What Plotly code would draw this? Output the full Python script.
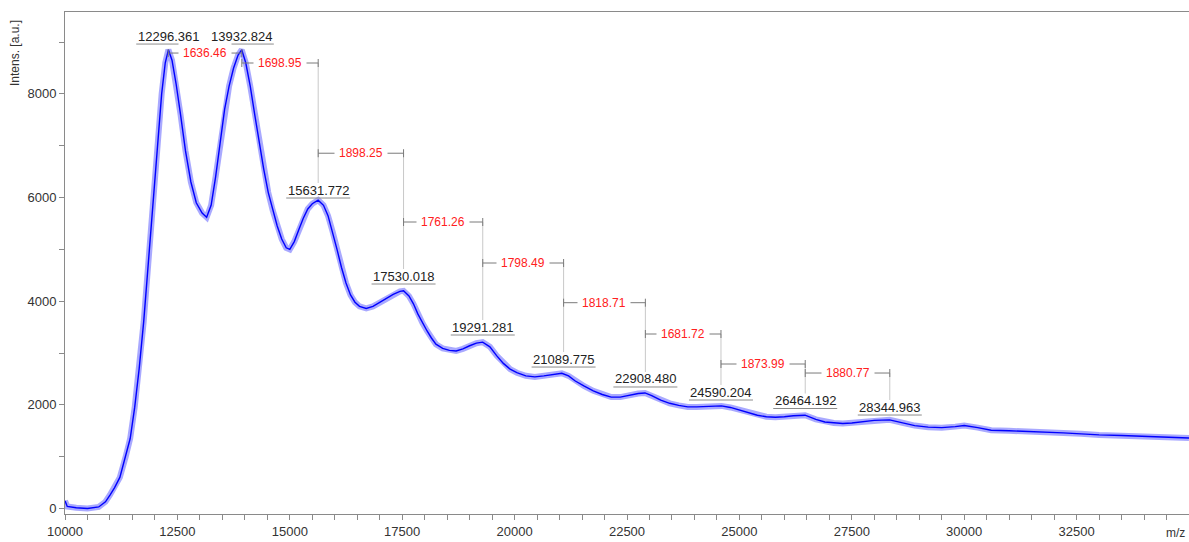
import plotly.graph_objects as go

# ---------------- spectrum (m/z, intensity in a.u.) ----------------
mz = [10000, 10050, 10250, 10500, 10750, 10900, 11000, 11100, 11220, 11350,
      11450, 11550, 11650, 11750, 11850, 11950, 12050, 12150, 12230, 12300,
      12380, 12470, 12570, 12680, 12800, 12920, 13050, 13150, 13250, 13350,
      13450, 13550, 13650, 13750, 13850, 13930, 14020, 14120, 14220, 14320,
      14420, 14520, 14620, 14720, 14820, 14920, 15000, 15100, 15200, 15300,
      15400, 15500, 15630, 15750, 15850, 15950, 16050, 16150, 16250, 16350,
      16450, 16550, 16700, 16850, 17000, 17150, 17300, 17450, 17530, 17650,
      17750, 17850, 17950, 18050, 18150, 18250, 18400, 18550, 18700, 18850,
      19000, 19150, 19290, 19450, 19600, 19750, 19900, 20050, 20250, 20450,
      20650, 20850, 21050, 21200, 21350, 21550, 21750, 21950, 22150, 22350,
      22550, 22750, 22900, 23050, 23250, 23450, 23650, 23850, 24050, 24250,
      24450, 24600, 24800, 25000, 25200, 25400, 25600, 25800, 26000, 26200,
      26460, 26700, 26900, 27100, 27300, 27500, 27750, 28000, 28340, 28600,
      28900, 29200, 29500, 29800, 30000, 30300, 30600, 31000, 31400, 31800,
      32200, 32600, 33000, 33500, 34000, 34500, 35000]
intensity = [150, 40, 15, 0, 30, 130, 260, 400, 600, 1000,
             1350, 1950, 2700, 3600, 4700, 5900, 7000, 8000, 8600, 8850,
             8650, 8200, 7600, 6900, 6300, 5900, 5700, 5620, 5850, 6400,
             7050, 7700, 8150, 8500, 8750, 8850, 8600, 8150, 7600, 7050,
             6550, 6100, 5750, 5450, 5200, 5030, 5000, 5150, 5380, 5600,
             5780, 5880, 5950, 5850, 5650, 5350, 5000, 4650, 4350, 4120,
             3980, 3900, 3860, 3900, 3980, 4060, 4130, 4190, 4200, 4100,
             3950, 3750, 3580, 3430, 3290, 3170, 3090, 3050, 3040, 3080,
             3140, 3190, 3210, 3120, 2950, 2800, 2690, 2620, 2560, 2540,
             2560, 2590, 2610, 2560, 2460, 2360, 2270, 2200, 2150, 2150,
             2190, 2220, 2230, 2180, 2090, 2030, 1990, 1960, 1960, 1970,
             1980, 1980, 1950, 1900, 1840, 1800, 1770, 1760, 1770, 1790,
             1800, 1720, 1670, 1650, 1640, 1650, 1680, 1700, 1710, 1660,
             1600, 1570, 1560, 1580, 1600, 1560, 1510, 1500, 1490, 1480,
             1460, 1440, 1420, 1410, 1390, 1380, 1360]

# ---------------- labelled peaks ----------------
peak_mz = [12296.361, 13932.824, 15631.772, 17530.018, 19291.281,
           21089.775, 22908.480, 24590.204, 26464.192, 28344.963]
peak_label_level = [9116, 9116, 6145, 4486, 3502, 2884, 2499, 2248, 2084, 1958]
# mass differences between neighbouring peaks and the height of each bracket
gap_value = [1636.46, 1698.95, 1898.25, 1761.26, 1798.49,
             1818.71, 1681.72, 1873.99, 1880.77]
gap_level = [8788, 8596, 6855, 5528, 4737, 3971, 3367, 2788, 2614]

x_tick_vals = [10000, 12500, 15000, 17500, 20000, 22500, 25000, 27500, 30000, 32500]
y_tick_vals = [0, 2000, 4000, 6000, 8000]

# ---------------- geometry ----------------
W, H = 1189, 542
MARGIN = dict(l=65, r=0, t=12, b=28)
X_RANGE = [10000, 35000]
Y_RANGE = [-106, 9580]
plot_w = W - MARGIN["l"] - MARGIN["r"]
plot_h = H - MARGIN["t"] - MARGIN["b"]
x_per_px = (X_RANGE[1] - X_RANGE[0]) / plot_w
y_per_px = (Y_RANGE[1] - Y_RANGE[0]) / plot_h

FONT = "Liberation Sans, Arial, sans-serif"
AXIS_GREY = "#8a8a8a"

fig = go.Figure()

# noisy trace: soft band + core line
fig.add_trace(go.Scatter(x=mz, y=intensity, mode="lines",
                         line=dict(color="rgba(30,30,255,0.38)", width=6),
                         hoverinfo="skip", showlegend=False))
fig.add_trace(go.Scatter(x=mz, y=intensity, mode="lines",
                         line=dict(color="#0000ff", width=1.4),
                         showlegend=False))

shapes = []
annotations = []

# peak labels with underline
for m, lv in zip(peak_mz, peak_label_level):
    annotations.append(dict(x=m, y=lv, xref="x", yref="y", text=f"{m:.3f}",
                            showarrow=False, xanchor="center", yanchor="middle",
                            font=dict(family=FONT, size=13, color="#222222")))
    shapes.append(dict(type="line", xref="x", yref="y",
                       x0=m - 32 * x_per_px, x1=m + 32 * x_per_px,
                       y0=lv - 8 * y_per_px, y1=lv - 8 * y_per_px,
                       line=dict(color="#8c8c8c", width=1)))

# distance brackets between neighbouring peaks
tick_h = 4 * y_per_px
for i, (gv, lv) in enumerate(zip(gap_value, gap_level)):
    a, b = peak_mz[i], peak_mz[i + 1]
    shapes.append(dict(type="line", xref="x", yref="y", x0=a, x1=b, y0=lv, y1=lv,
                       line=dict(color="#7a7a7a", width=1)))
    for e in (a, b):
        shapes.append(dict(type="line", xref="x", yref="y", x0=e, x1=e,
                           y0=lv - tick_h, y1=lv + tick_h,
                           line=dict(color="#7a7a7a", width=1)))
    annotations.append(dict(x=(a + b) / 2, y=lv, xref="x", yref="y",
                            text=f"{gv:.2f}", showarrow=False,
                            xanchor="center", yanchor="middle",
                            bgcolor="white", borderpad=4,
                            font=dict(family=FONT, size=12, color="#ff2020")))

# vertical guides from a bracket down to the peak label
for k in range(1, len(peak_mz)):
    top = gap_level[k - 1]
    bottom = peak_label_level[k] + 7 * y_per_px
    if top > bottom:
        shapes.append(dict(type="line", xref="x", yref="y",
                           x0=peak_mz[k], x1=peak_mz[k], y0=bottom, y1=top,
                           line=dict(color="#c8c8c8", width=1),
                           layer="below"))

# axis captions
annotations.append(dict(xref="paper", yref="paper",
                        x=-50 / plot_w, y=1 - 6 / plot_h,
                        text="Intens. [a.u.]", textangle=-90, showarrow=False,
                        xanchor="center", yanchor="top",
                        font=dict(family=FONT, size=12, color="#333333")))
annotations.append(dict(xref="paper", yref="paper",
                        x=(1175 - MARGIN["l"]) / plot_w, y=-27 / plot_h,
                        text="m/z", showarrow=False,
                        xanchor="center", yanchor="bottom", borderpad=0,
                        font=dict(family=FONT, size=12, color="#333333")))

fig.update_layout(
    width=W, height=H, autosize=False,
    margin=dict(MARGIN, pad=0),
    paper_bgcolor="white", plot_bgcolor="white",
    shapes=shapes, annotations=annotations,
    showlegend=False,
    xaxis=dict(range=X_RANGE, tickvals=x_tick_vals, tickformat="d",
               showgrid=False, zeroline=False,
               showline=True, linecolor=AXIS_GREY, linewidth=1, mirror=True,
               ticks="outside", ticklen=5, tickcolor=AXIS_GREY,
               minor=dict(dtick=500, tick0=10000, ticks="outside", ticklen=5,
                          tickcolor=AXIS_GREY, showgrid=False),
               tickfont=dict(family=FONT, size=13, color="#333333")),
    yaxis=dict(range=Y_RANGE, tickvals=y_tick_vals, tickformat="d",
               showgrid=False, zeroline=False,
               showline=True, linecolor=AXIS_GREY, linewidth=1, mirror=True,
               ticks="outside", ticklen=5, tickcolor=AXIS_GREY,
               minor=dict(dtick=1000, tick0=0, ticks="outside", ticklen=5,
                          tickcolor=AXIS_GREY, showgrid=False),
               tickfont=dict(family=FONT, size=13, color="#333333")),
)

fig.write_html("out.html")
